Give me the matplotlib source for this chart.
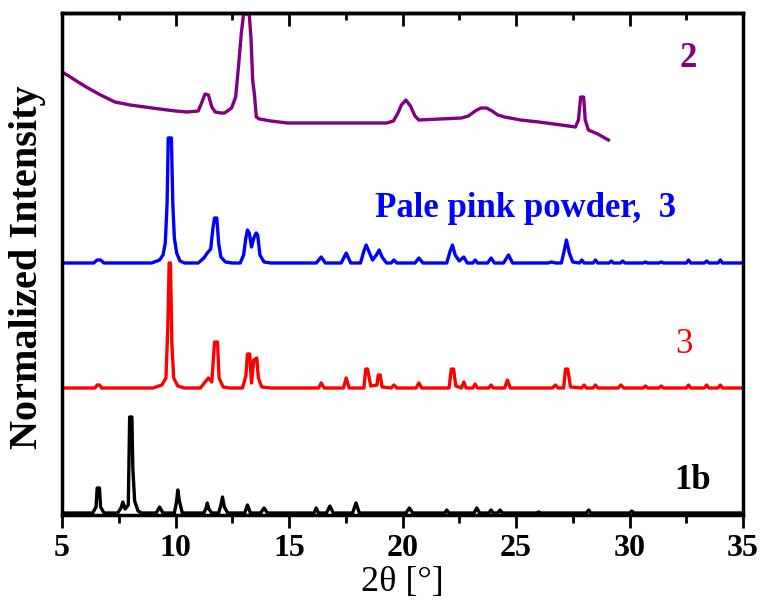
import matplotlib
matplotlib.use("Agg")
import matplotlib.pyplot as plt
from matplotlib.ticker import MultipleLocator

plt.rcParams['font.family'] = ['Liberation Serif', 'DejaVu Serif']

# vertical offsets of the stacked patterns (a.u.)
off_1b = 2
off_3 = 127
off_pink = 252
off_2 = 375

# 1b pattern (2theta, intensity above its baseline)
x_1b = [5.0, 6.35, 6.5, 6.55, 6.65, 6.7, 6.85, 7.45, 7.6, 7.68, 7.78, 7.92, 7.98, 8.08, 8.12, 8.2, 8.35, 8.5,
        9.15, 9.3, 9.45, 9.95, 10.05, 10.1, 10.17, 10.3, 11.25, 11.35, 11.4, 11.47, 11.6, 11.9, 12.0, 12.07,
        12.15, 12.3, 13.05, 13.17, 13.3, 13.75, 13.9, 14.05, 16.1, 16.2, 16.3, 16.65, 16.8, 16.95, 17.8, 17.95,
        18.1, 20.15, 20.3, 20.45, 21.85, 21.95, 22.05, 23.15, 23.27, 23.4, 23.8, 23.9, 24.0, 24.2, 24.3, 24.4,
        25.9, 26.0, 26.1, 28.1, 28.2, 28.3, 30.0, 30.1, 30.2, 35.0]
y_1b = [0, 0, 6, 25, 25, 6, 0, 0, 5, 11, 4, 8, 96, 96, 45, 12, 2, 0,
        0, 6, 0, 0, 12, 23, 12, 0, 0, 5, 10, 4, 0, 0, 8, 16,
        6, 0, 0, 8, 0, 0, 5, 0, 0, 5, 0, 0, 7, 0, 0, 10,
        0, 0, 5, 0, 0, 3, 0, 0, 5, 0, 0, 3, 0, 0, 3, 0,
        0, 1, 0, 0, 3, 0, 0, 2, 0, 0]

# 3 (red)
x_3 = [5.0, 6.45, 6.55, 6.65, 6.75, 9.0, 9.4, 9.58, 9.66, 9.72, 9.78, 9.84, 9.92, 10.1, 10.4,
       11.1, 11.3, 11.45, 11.6, 11.72, 11.85, 11.92, 12.1, 12.4, 12.95, 13.1, 13.17, 13.27, 13.35, 13.45,
       13.58, 13.65, 13.8, 14.2, 16.3, 16.42, 16.55, 17.4, 17.52, 17.65, 18.3, 18.38, 18.46, 18.6, 18.88,
       18.93, 19.02, 19.1, 19.5, 19.62, 19.75, 20.6, 20.72, 20.85, 22.05, 22.15, 22.25, 22.35, 22.6, 22.7,
       22.8, 23.1, 23.2, 23.3, 23.8, 23.9, 24.0, 24.5, 24.62, 24.75, 26.6, 26.74, 26.85, 27.1, 27.18,
       27.28, 27.4, 27.9, 28.0, 28.1, 28.4, 28.5, 28.6, 29.5, 29.62, 29.75, 30.6, 30.7, 30.8, 31.3,
       31.4, 31.5, 32.5, 32.6, 32.7, 33.3, 33.4, 33.5, 33.9, 34.0, 34.1, 35.0]
y_3 = [0, 0, 3, 3, 0, 0, 3, 10, 60, 125, 125, 45, 10, 2, 0,
       0, 6, 10, 6, 46, 46, 10, 1, 0, 0, 12, 34, 34, 5, 28,
       30, 10, 1, 0, 0, 5, 0, 0, 10, 0, 0, 19, 19, 2, 3,
       13, 13, 1, 0, 3, 0, 0, 5, 0, 0, 19, 19, 2, 0, 6,
       0, 0, 4, 0, 0, 3, 0, 0, 8, 0, 0, 3, 0, 0, 19,
       19, 1, 0, 3, 0, 0, 3, 0, 0, 3, 0, 0, 2, 0, 0,
       2, 0, 0, 3, 0, 0, 3, 0, 0, 3, 0, 0]

# Pale pink powder, 3 (blue)
x_pink = [5.0, 6.4, 6.55, 6.7, 6.85, 8.95, 9.3, 9.45, 9.55, 9.63, 9.68, 9.82, 9.88, 9.95, 10.05, 10.2, 10.4,
          11.0, 11.25, 11.4, 11.55, 11.65, 11.72, 11.82, 11.9, 12.0, 12.2, 12.5, 12.85, 13.0, 13.1, 13.17,
          13.25, 13.35, 13.45, 13.55, 13.62, 13.72, 13.9, 14.2, 16.2, 16.42, 16.6, 17.3, 17.52, 17.72, 18.15,
          18.3, 18.4, 18.55, 18.68, 18.85, 18.97, 19.1, 19.3, 19.5, 19.62, 19.75, 20.55, 20.72, 20.9, 21.95,
          22.1, 22.2, 22.32, 22.5, 22.7, 22.85, 23.1, 23.2, 23.3, 23.75, 23.9, 24.05, 24.45, 24.67, 24.85,
          26.4, 26.56, 26.75, 27.0, 27.12, 27.22, 27.35, 27.5, 27.8, 27.9, 28.0, 28.4, 28.5, 28.6, 29.1,
          29.2, 29.3, 29.6, 29.7, 29.8, 30.6, 30.7, 30.8, 31.3, 31.4, 31.5, 32.5, 32.6, 32.7, 33.3, 33.4,
          33.5, 33.9, 34.0, 34.1, 35.0]
y_pink = [0, 0, 3, 3, 0, 0, 3, 8, 20, 60, 125, 125, 60, 25, 10, 2, 0,
          0, 5, 10, 14, 35, 45, 45, 20, 6, 1, 0, 0, 8, 25, 33,
          30, 16, 25, 30, 28, 8, 1, 0, 0, 6, 0, 0, 10, 0, 0,
          12, 18, 10, 3, 8, 13, 6, 0, 0, 3, 0, 0, 5, 0, 0,
          12, 18, 8, 2, 6, 0, 0, 3, 0, 0, 5, 0, 0, 8, 0,
          0, 1, 0, 0, 12, 23, 10, 1, 0, 3, 0, 0, 3, 0, 0,
          2, 0, 0, 2, 0, 0, 1, 0, 0, 1, 0, 0, 3, 0, 0, 2,
          0, 0, 3, 0, 0]

# 2 (purple)
x_2 = [5.0, 5.3, 5.57, 5.85, 6.14, 6.7, 7.33, 8.0, 8.65, 9.3, 10.0, 10.5, 11.0, 11.15, 11.3, 11.45, 11.6,
       11.75, 12.0, 12.16, 12.47, 12.65, 12.72, 12.8, 12.9, 13.0, 13.25, 13.33, 13.4, 13.48, 13.56, 13.7,
       14.2, 14.93, 19.3, 19.6, 19.8, 19.95, 20.15, 20.35, 20.55, 20.72, 22.6, 22.9, 23.2, 23.45, 23.7,
       23.95, 24.2, 24.5, 25.2, 26.0, 27.0, 27.62, 27.75, 27.85, 27.98, 28.05, 28.19, 28.6, 29.07]
y_2 = [68, 64, 60, 56, 52, 45, 38, 35, 33, 31, 29, 28, 29, 37, 46, 45, 33,
       28, 27, 27, 32, 43, 60, 80, 107, 126, 126, 100, 60, 45, 23, 21,
       19, 17, 17, 19, 27, 35, 40, 34, 24, 20, 22, 24, 29, 32, 32,
       29, 25, 23, 20, 18, 15, 13, 20, 43, 43, 20, 10, 6, 0]

xticks = [5, 10, 15, 20, 25, 30, 35]

fig = plt.figure(figsize=(7.62, 6.04), dpi=100)
ax = fig.add_axes([62 / 762, 1 - 515 / 604, 681 / 762, 502 / 604])

lw = 2.4
ax.plot(x_1b, [v + off_1b for v in y_1b], color='black', lw=lw)
ax.plot(x_3, [v + off_3 for v in y_3], color='#FF0000', lw=lw)
ax.plot(x_pink, [v + off_pink for v in y_pink], color='#0000FF', lw=lw)
ax.plot(x_2, [v + off_2 for v in y_2], color='#800080', lw=lw)

ax.text(32.6, 448, '2', color='#800080', fontsize=25, fontweight='bold', ha='center', va='baseline')
ax.text(18.8, 298, 'Pale pink powder,  3', color='#0000FF', fontsize=25, fontweight='bold',
        ha='left', va='baseline')
ax.text(32.4, 162, '3', color='#FF0000', fontsize=25, ha='center', va='baseline')
ax.text(32.8, 26, '1b', color='black', fontsize=25, fontweight='bold', ha='center', va='baseline')

ax.set_xlim(5, 35)
ax.set_ylim(0, 502)
ax.set_xticks(xticks)
ax.xaxis.set_minor_locator(MultipleLocator(2.5))
ax.set_yticks([])
for lbl in ax.get_xticklabels():
    lbl.set_fontweight('bold')
ax.tick_params(axis='x', which='major', direction='out', length=9.5, width=2, labelsize=23, pad=4)
ax.tick_params(axis='x', which='minor', direction='out', length=5.5, width=2)

# inward ticks on the top edge
top = ax.secondary_xaxis('top')
top.set_xticks(xticks)
top.xaxis.set_minor_locator(MultipleLocator(2.5))
top.tick_params(axis='x', which='major', direction='in', length=9, width=2, labeltop=False)
top.tick_params(axis='x', which='minor', direction='in', length=5, width=2)
top.spines['top'].set_linewidth(2.5)

for s in ax.spines.values():
    s.set_linewidth(2.5)

ax.set_xlabel('2θ [°]', fontsize=26, labelpad=2)
fig.text(28 / 762, 1 - 267 / 604, 'Normalized Intensity', rotation=90, fontsize=29,
         fontweight='bold', ha='center', va='center')

fig.savefig('out.png', dpi=100)
